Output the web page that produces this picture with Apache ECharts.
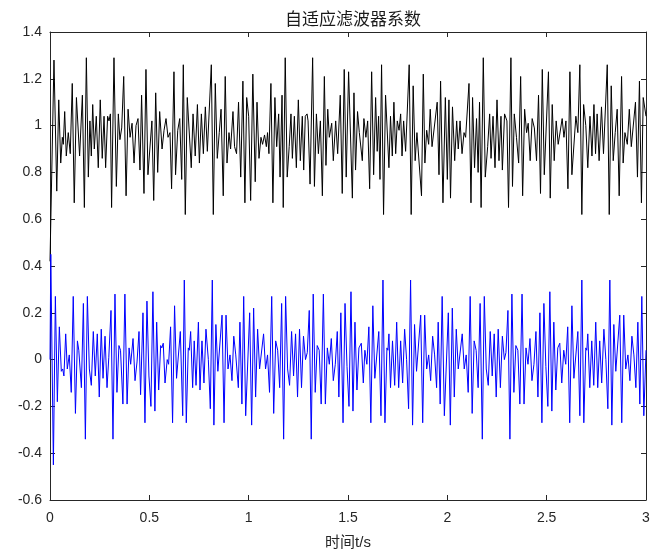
<!DOCTYPE html>
<html>
<head>
<meta charset="utf-8">
<title>自适应滤波器系数</title>
<script src="https://cdn.jsdelivr.net/npm/echarts@6/dist/echarts.min.js"></script>
<style>
  html, body { margin: 0; padding: 0; background: #fff; }
  #chartLineBox { width: 666px; height: 554px; }
</style>
</head>
<body>
<div id="chartLineBox"></div>
<script>
// black curve (coefficient around 1): time / value
const blackT = [0,0.020,0.034,0.044,0.054,0.062,0.067,0.074,0.082,0.092,0.102,0.112,0.122,0.133,0.149,0.163,0.173,0.183,0.193,0.201,
  0.208,0.215,0.223,0.233,0.243,0.253,0.263,0.272,0.280,0.290,0.297,0.304,0.310,0.322,0.334,0.344,0.352,0.361,0.371,0.383,
  0.393,0.403,0.413,0.423,0.433,0.443,0.453,0.461,0.473,0.483,0.493,0.513,0.522,0.532,0.542,0.552,0.564,0.574,0.584,0.594,
  0.604,0.612,0.624,0.632,0.643,0.653,0.663,0.671,0.681,0.691,0.711,0.720,0.731,0.742,0.752,0.762,0.772,0.782,0.792,0.812,
  0.822,0.832,0.842,0.852,0.861,0.872,0.882,0.891,0.901,0.909,0.921,0.929,0.939,0.949,0.960,0.971,0.981,0.990,1.000,1.010,
  1.021,1.033,1.042,1.052,1.062,1.070,1.080,1.089,1.095,1.102,1.112,1.122,1.132,1.141,1.151,1.158,1.168,1.174,1.184,1.194,
  1.204,1.213,1.220,1.230,1.240,1.250,1.260,1.270,1.277,1.285,1.294,1.299,1.309,1.322,1.331,1.341,1.351,1.361,1.371,1.381,
  1.389,1.398,1.406,1.418,1.426,1.438,1.448,1.461,1.471,1.481,1.491,1.503,1.522,1.530,1.538,1.548,1.557,1.572,1.580,1.590,
  1.599,1.609,1.619,1.629,1.639,1.647,1.654,1.661,1.669,1.679,1.689,1.706,1.714,1.723,1.731,1.740,1.748,1.757,1.765,1.772,
  1.780,1.790,1.808,1.818,1.828,1.838,1.847,1.870,1.879,1.887,1.896,1.906,1.914,1.923,1.949,1.958,1.966,1.978,1.990,2.000,
  2.008,2.016,2.026,2.037,2.047,2.055,2.064,2.074,2.084,2.092,2.109,2.119,2.127,2.137,2.147,2.155,2.162,2.170,2.181,2.191,
  2.203,2.213,2.220,2.230,2.240,2.250,2.260,2.270,2.277,2.288,2.300,2.308,2.320,2.328,2.337,2.348,2.359,2.369,2.379,2.389,
  2.399,2.407,2.417,2.427,2.438,2.449,2.459,2.469,2.478,2.488,2.509,2.518,2.528,2.538,2.548,2.558,2.578,2.587,2.597,2.607,
  2.617,2.627,2.647,2.657,2.667,2.677,2.686,2.697,2.707,2.718,2.728,2.738,2.746,2.754,2.764,2.776,2.786,2.805,2.815,2.825,
  2.835,2.845,2.855,2.865,2.877,2.885,2.894,2.906,2.916,2.926,2.947,2.957,2.967,2.977,2.986,3.000];
const blackV = [0.42,1.28,0.72,1.11,0.84,0.95,0.92,1.06,0.87,0.97,0.88,1.18,0.67,1.12,0.87,1.13,0.65,1.29,0.78,1.02,
  0.87,1.09,0.90,1.04,0.82,1.11,0.86,1.04,0.82,1.04,1.02,1.05,0.65,1.29,0.74,1.05,0.94,0.99,1.21,0.70,
  1.07,0.95,1.01,0.84,1.00,1.03,0.81,1.13,0.71,1.24,0.79,1.02,0.68,1.14,0.80,1.06,0.90,0.98,1.03,0.95,
  0.97,0.73,1.23,0.79,0.98,1.03,0.77,1.26,0.62,1.12,0.82,1.05,0.87,1.09,0.84,1.05,0.88,1.08,0.89,1.26,
  0.62,1.18,0.86,0.97,1.07,0.70,1.21,0.84,0.97,0.90,1.06,0.91,0.88,1.10,0.78,1.19,0.67,1.12,1.04,0.68,
  1.22,0.76,1.10,0.86,0.95,0.92,0.96,0.91,0.97,0.88,1.18,0.67,1.12,0.91,1.05,0.78,1.13,0.65,1.29,0.78,
  0.91,1.05,0.86,1.04,0.82,1.11,0.85,1.04,0.81,1.04,1.05,1.02,0.75,1.29,0.74,1.05,0.88,1.02,0.70,1.21,
  0.83,1.07,0.95,1.01,0.85,1.02,0.88,1.13,0.71,1.24,0.78,1.23,0.69,1.14,0.81,1.06,0.97,0.85,1.03,0.95,
  1.02,0.73,1.23,0.79,1.12,0.89,1.04,0.77,1.26,0.62,1.13,0.82,1.04,0.87,1.10,0.88,1.02,0.98,1.05,0.87,
  1.02,0.89,1.26,0.62,1.17,0.85,0.97,0.70,1.22,0.84,0.98,0.92,1.07,0.91,1.10,0.79,1.19,0.67,1.12,0.77,
  1.11,0.69,1.08,0.85,1.02,0.90,1.02,0.88,0.97,0.95,1.18,0.67,1.12,0.82,1.03,0.80,1.10,0.65,1.29,0.78,
  0.91,1.05,0.86,1.04,0.82,1.11,0.85,1.04,0.81,1.05,1.02,0.65,1.29,0.74,1.05,0.95,0.84,1.21,0.70,1.07,
  0.97,1.01,0.85,1.03,0.99,0.85,1.13,0.71,1.24,0.79,1.23,0.69,1.09,0.85,1.02,0.92,1.03,0.95,1.02,0.73,
  1.23,0.79,1.04,0.97,1.26,0.62,1.09,1.00,0.82,1.04,0.87,1.09,0.88,1.05,0.85,1.08,0.88,1.26,0.62,1.17,
  0.85,0.97,1.07,0.70,1.21,0.84,0.97,0.92,1.07,0.91,1.10,0.78,1.19,0.67,1.12,1.04];

// blue curve (coefficient around 0)
const blueT = [0,0.004,0.017,0.027,0.037,0.047,0.057,0.064,0.070,0.079,0.087,0.097,0.107,0.117,0.128,0.138,0.145,0.158,0.168,0.178,
  0.188,0.198,0.208,0.218,0.228,0.238,0.248,0.258,0.267,0.277,0.287,0.296,0.307,0.317,0.327,0.337,0.347,0.355,0.367,0.377,
  0.388,0.398,0.406,0.418,0.428,0.438,0.448,0.456,0.468,0.478,0.488,0.498,0.508,0.518,0.528,0.537,0.547,0.557,0.563,0.570,
  0.579,0.590,0.597,0.607,0.617,0.627,0.637,0.656,0.668,0.676,0.686,0.696,0.701,0.708,0.718,0.726,0.735,0.747,0.755,0.765,
  0.775,0.785,0.797,0.807,0.817,0.825,0.835,0.845,0.866,0.876,0.886,0.896,0.906,0.916,0.925,0.935,0.948,0.956,0.966,0.975,
  0.985,1.005,1.015,1.025,1.035,1.045,1.055,1.075,1.085,1.095,1.105,1.116,1.126,1.136,1.146,1.156,1.166,1.176,1.186,1.196,
  1.206,1.216,1.226,1.236,1.246,1.256,1.266,1.276,1.286,1.295,1.305,1.315,1.325,1.335,1.345,1.355,1.365,1.376,1.386,1.396,
  1.406,1.416,1.426,1.436,1.446,1.454,1.464,1.475,1.485,1.495,1.505,1.515,1.525,1.535,1.545,1.555,1.567,1.577,1.585,1.595,
  1.605,1.615,1.625,1.635,1.655,1.666,1.676,1.686,1.696,1.701,1.706,1.714,1.724,1.735,1.745,1.755,1.765,1.775,1.785,1.795,
  1.805,1.815,1.825,1.835,1.845,1.866,1.876,1.886,1.896,1.906,1.916,1.926,1.936,1.946,1.954,1.964,1.974,1.985,2.005,2.015,
  2.025,2.035,2.045,2.055,2.075,2.085,2.095,2.105,2.115,2.125,2.135,2.145,2.155,2.165,2.176,2.186,2.196,2.206,2.216,2.226,
  2.236,2.246,2.256,2.267,2.277,2.287,2.295,2.305,2.315,2.325,2.335,2.345,2.355,2.365,2.376,2.386,2.396,2.406,2.416,2.426,
  2.436,2.446,2.456,2.466,2.476,2.486,2.496,2.506,2.516,2.526,2.536,2.546,2.556,2.566,2.576,2.586,2.596,2.606,2.616,2.627,
  2.637,2.657,2.667,2.677,2.687,2.697,2.702,2.707,2.717,2.727,2.737,2.747,2.757,2.767,2.777,2.788,2.798,2.808,2.818,2.828,
  2.838,2.848,2.868,2.878,2.888,2.898,2.909,2.919,2.929,2.939,2.949,2.959,2.969,2.979,2.989,3.000];
const blueV = [0,0.45,-0.45,0.27,-0.18,0.14,-0.05,-0.04,-0.07,0.11,-0.04,0.02,-0.14,0.27,-0.23,0.08,0.04,-0.12,0.24,-0.34,
  0.27,-0.04,-0.11,0.12,-0.07,0.11,-0.16,0.13,-0.08,0.10,-0.12,0.01,0.21,-0.34,0.28,-0.14,0.06,0.04,-0.19,0.28,
  -0.19,0.05,-0.02,0.09,-0.09,-0.01,0.12,-0.15,0.20,-0.27,0.25,-0.07,-0.20,0.29,-0.22,0.16,-0.13,0.06,0.05,0.07,
  -0.10,0.00,-0.02,0.14,-0.27,0.23,-0.08,0.12,-0.24,0.34,-0.27,0.05,0.04,0.12,-0.12,0.08,-0.11,0.16,-0.13,0.08,
  -0.10,0.13,0.00,-0.21,0.34,-0.28,0.15,-0.05,0.19,-0.27,0.19,-0.04,0.02,-0.09,0.10,0.02,-0.12,0.16,-0.19,0.27,
  -0.24,0.20,-0.28,0.22,-0.16,0.13,-0.04,0.11,-0.04,0.02,-0.14,0.27,-0.23,0.08,0.04,-0.12,0.24,-0.34,0.27,-0.04,
  -0.11,0.12,-0.07,0.11,-0.16,0.13,-0.12,0.10,0.00,0.03,0.21,-0.34,0.28,-0.14,0.06,0.04,-0.19,0.28,-0.19,0.05,
  -0.02,0.09,-0.09,-0.02,0.12,-0.16,0.20,-0.27,0.24,-0.03,-0.20,0.29,-0.22,0.16,-0.13,0.05,0.07,-0.10,0.04,-0.02,
  0.14,-0.27,0.23,-0.08,0.12,-0.24,0.34,-0.27,0.05,0.04,0.11,-0.12,0.08,-0.11,0.16,-0.12,0.08,-0.10,0.13,0.00,
  -0.21,0.34,-0.28,0.15,-0.05,0.19,-0.27,0.19,-0.04,0.02,-0.09,0.10,0.02,-0.12,0.16,-0.19,0.27,-0.24,0.20,-0.28,
  0.22,-0.16,0.13,-0.04,0.11,-0.04,0.02,-0.14,0.27,-0.23,0.08,0.04,-0.12,0.24,-0.34,0.27,-0.04,-0.11,0.12,-0.07,
  0.11,-0.16,0.13,-0.12,0.10,0.00,0.03,0.21,-0.34,0.28,-0.14,0.06,0.04,-0.19,0.28,-0.19,0.05,-0.02,0.09,-0.09,
  -0.02,0.12,-0.16,0.20,-0.27,0.24,-0.03,-0.20,0.29,-0.22,0.16,-0.13,0.05,0.07,-0.10,0.04,-0.02,0.14,-0.27,0.23,
  -0.08,0.12,-0.24,0.34,-0.27,0.05,0.04,0.11,-0.12,0.08,-0.11,0.16,-0.12,0.08,-0.10,0.13,0.00,-0.21,0.34,-0.28,
  0.15,-0.05,0.19,-0.27,0.19,-0.04,0.02,-0.09,0.10,0.02,-0.12,0.16,-0.19,0.27,-0.24,0.04];

const xTicks = { min: 0, max: 3, step: 0.5 };
const yTicks = { min: -0.6, max: 1.4, step: 0.2 };

function pairs(ts, vs) {
  return ts.map((t, i) => [t, vs[i]]);
}

const axisColor = '#262626';
const numFont = 'Liberation Sans, Arial, Helvetica, sans-serif';
const cjkFont = 'Liberation Sans, Noto Sans CJK SC, sans-serif';

function fmt(v) {
  return String(+v.toFixed(1));
}

function boxAxis(range, pos, showLabel, extra) {
  return Object.assign({
    type: 'value',
    position: pos,
    min: range.min,
    max: range.max,
    interval: range.step,
    axisLine: { show: true, onZero: false, lineStyle: { color: axisColor, width: 1 } },
    axisTick: { show: true, inside: true, length: 5, lineStyle: { color: axisColor, width: 1 } },
    axisLabel: { show: showLabel, color: axisColor, fontSize: 14, fontFamily: numFont, formatter: fmt },
    splitLine: { show: false }
  }, extra || {});
}

const chart = echarts.init(document.getElementById('chartLineBox'));

const option = {
  animation: false,
  backgroundColor: '#fff',
  title: {
    text: '自适应滤波器系数',
    left: 348,
    textAlign: 'center',
    top: 5,
    textStyle: { fontSize: 17, fontWeight: 'normal', color: '#1a1a1a', fontFamily: 'Noto Sans CJK SC, sans-serif' }
  },
  // keep the plot box fixed, do not let labels shrink it
  grid: { left: 50, right: 20, top: 32, bottom: 54, containLabel: false, outerBoundsMode: 'none' },
  xAxis: [
    boxAxis(xTicks, 'bottom', true, {
      name: '时间t/s',
      nameLocation: 'middle',
      nameGap: 35,
      nameTextStyle: { fontSize: 15, color: axisColor, fontFamily: cjkFont },
      axisLabel: { show: true, color: axisColor, fontSize: 14, fontFamily: numFont, margin: 11, formatter: fmt }
    }),
    boxAxis(xTicks, 'top', false)
  ],
  yAxis: [
    boxAxis(yTicks, 'left', true, {
      axisLabel: { show: true, color: axisColor, fontSize: 14, fontFamily: numFont, margin: 8, formatter: fmt }
    }),
    boxAxis(yTicks, 'right', false)
  ],
  series: [
    {
      name: 'w1',
      type: 'line',
      showSymbol: false,
      symbol: 'none',
      lineStyle: { color: '#000000', width: 1 },
      data: pairs(blackT, blackV)
    },
    {
      name: 'w2',
      type: 'line',
      showSymbol: false,
      symbol: 'none',
      lineStyle: { color: '#0000ff', width: 1 },
      data: pairs(blueT, blueV)
    }
  ]
};

chart.setOption(option);
</script>
</body>
</html>
